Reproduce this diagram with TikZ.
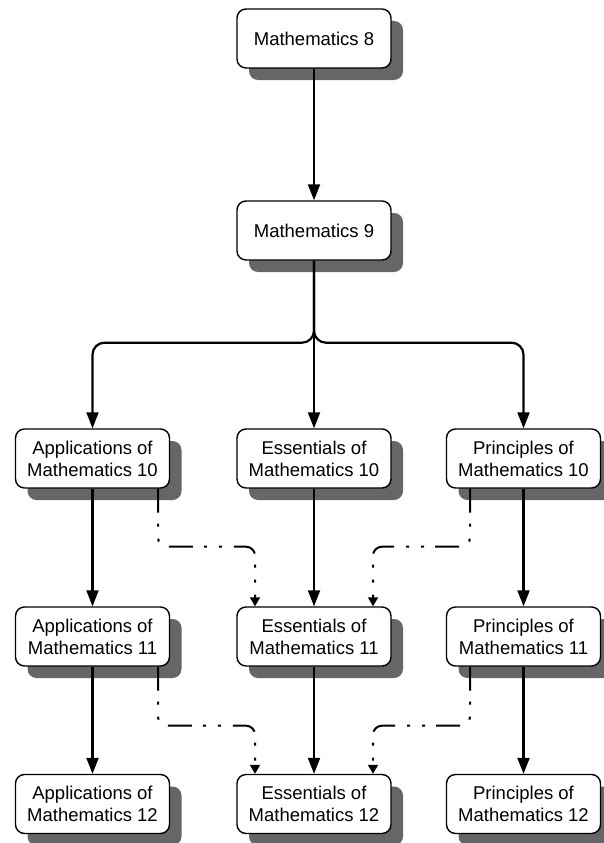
\documentclass[tikz,border=0pt]{standalone}
\usepackage{fontspec}
\setmainfont{Liberation Sans}
\usetikzlibrary{arrows.meta,shadows}
\definecolor{shade}{RGB}{102,102,102}
\begin{document}
\begin{tikzpicture}[x=1pt,y=-1pt,
 course/.style={draw,line width=1.4pt,rounded corners=9pt,fill=white,align=center,
  minimum width=154pt,minimum height=59pt,inner sep=2pt,font=\fontsize{18.5}{22}\selectfont,
  drop shadow={shadow xshift=12pt,shadow yshift=-12pt,fill=shade,opacity=1}},
 req/.style={line width=2.2pt,-{Triangle[length=16pt,width=12pt]},rounded corners=12pt},
 opt/.style={line width=2pt,-{Triangle[length=9pt,width=10pt]},rounded corners=9pt,
  dash pattern=on 24pt off 11pt on 3pt off 12pt on 3pt off 12pt}]
\useasboundingbox (0,0) rectangle (603,843);
\node[course] (m8) at (314,38.5) {Mathematics 8};
\node[course] (m9) at (314,230.5) {Mathematics 9};
\node[course] (app10) at (92.5,458.5) {Applications of\\Mathematics 10};
\node[course] (ess10) at (314,458.5) {Essentials of\\Mathematics 10};
\node[course] (pri10) at (523.5,458.5) {Principles of\\Mathematics 10};
\node[course] (app11) at (92.5,636.5) {Applications of\\Mathematics 11};
\node[course] (ess11) at (314,636.5) {Essentials of\\Mathematics 11};
\node[course] (pri11) at (523.5,636.5) {Principles of\\Mathematics 11};
\node[course] (app12) at (92.5,804) {Applications of\\Mathematics 12};
\node[course] (ess12) at (314,804) {Essentials of\\Mathematics 12};
\node[course] (pri12) at (523.5,804) {Principles of\\Mathematics 12};
\draw[req] (m8) -- (m9);
\draw[req] (m9.south) -- ++(0,82) -| (app10.north);
\draw[req] (m9.south) -- ++(0,82) -| (pri10.north);
\draw[req] (m9) -- (ess10);
\foreach \c in {app,ess,pri}
{\draw[req] (\c10) -- (\c11);
 \draw[req] (\c11) -- (\c12);}
\foreach \a/\b/\d in {10/11/58,11/12/59}
{\draw[opt] ([xshift=65.5pt]app\a.south) -- ++(0,\d) -| ([xshift=-59pt]ess\b.north);
 \draw[opt] ([xshift=-53.5pt]pri\a.south) -- ++(0,\d) -| ([xshift=59pt]ess\b.north);}
\end{tikzpicture}
\end{document}
